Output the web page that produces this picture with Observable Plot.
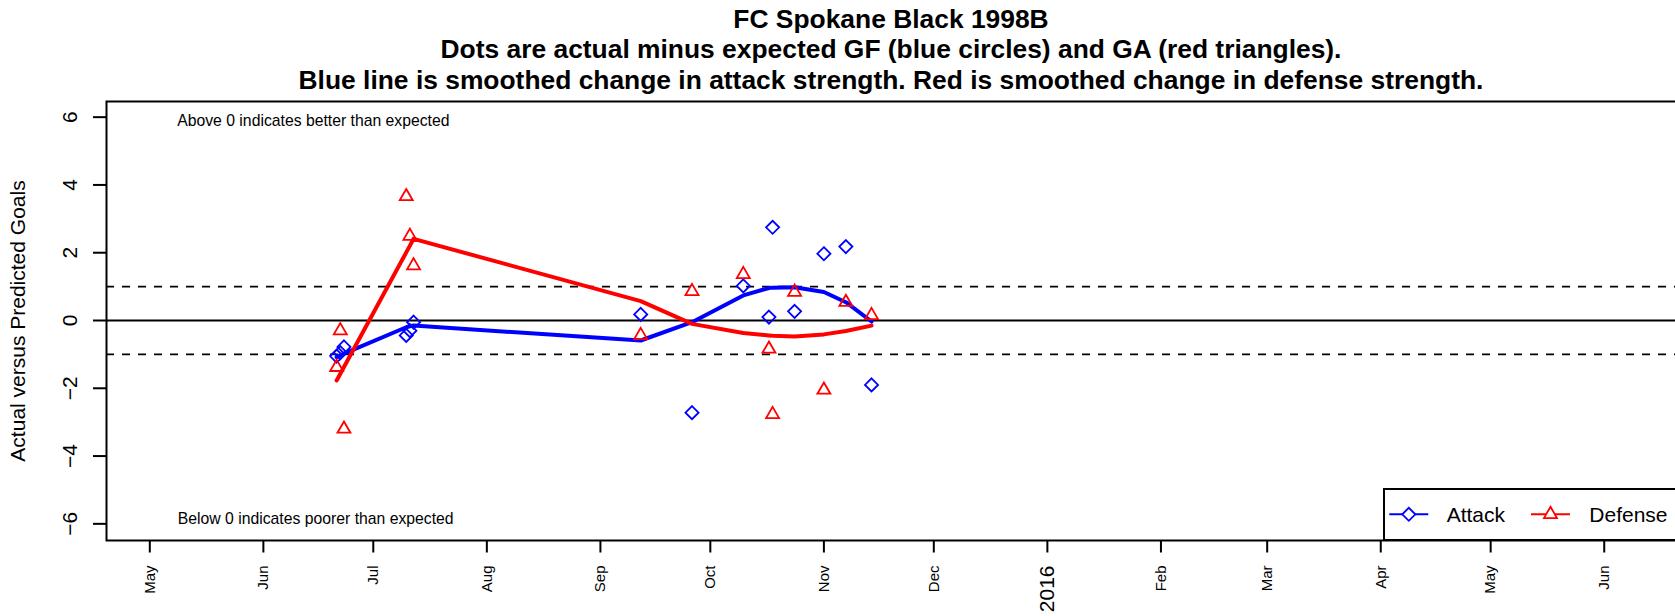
<!DOCTYPE html>
<html>
<head>
<meta charset="utf-8">
<script src="https://cdn.jsdelivr.net/npm/d3@7"></script>
<script src="https://cdn.jsdelivr.net/npm/@observablehq/plot@0.6"></script>
<style>
  html, body { margin: 0; padding: 0; background: #fff; }
  body { font-family: "Liberation Sans", Arial, Helvetica, sans-serif; }
  #wrap { position: relative; width: 1675px; height: 616px; overflow: hidden; background: #fff; }
  .ttl { position: absolute; left: 106px; width: 1570px; text-align: center; font-weight: bold;
         font-size: 26.4px; line-height: 30px; white-space: nowrap; color: #000; }
  #chart { position: absolute; left: 0; top: 0; }
  #legend { position: absolute; left: 0; top: 0; }
</style>
</head>
<body>
<div id="wrap">
  <div id="chart"></div>
  <div class="ttl" style="top:4.2px">FC Spokane Black 1998B</div>
  <div class="ttl" style="top:34.4px">Dots are actual minus expected GF (blue circles) and GA (red triangles).</div>
  <div class="ttl" style="top:64.6px">Blue line is smoothed change in attack strength. Red is smoothed change in defense strength.</div>
  <svg id="legend" width="1675" height="616"></svg>
</div>
<script>
// ---- data ----
const gameDates = ["2015-06-21","2015-06-22","2015-06-23","2015-07-10","2015-07-11","2015-07-12",
  "2015-09-12","2015-09-26","2015-10-10","2015-10-17","2015-10-18","2015-10-24","2015-11-01","2015-11-07","2015-11-14"];
const attackDiff   = [-1.05, -0.95, -0.78, -0.44, -0.30, -0.05, 0.18, -2.72, 1.02, 0.10, 2.75, 0.27, 1.97, 2.18, -1.90];
const defenseDiff  = [-1.38, -0.30, -3.20, 3.66, 2.49, 1.62, -0.44, 0.86, 1.36, -0.84, -2.77, 0.84, -2.05, 0.54, 0.15];
const attackSmooth = [-1.08, -1.03, -0.98, -0.20, -0.17, -0.15, -0.59, -0.05, 0.74, 0.96, 0.97, 0.98, 0.84, 0.54, -0.03];
const defenseSmooth= [-1.77, -1.57, -1.37, 2.01, 2.21, 2.41, 0.57, -0.10, -0.37, -0.44, -0.45, -0.47, -0.41, -0.31, -0.15];

const monthTickDates = ["2015-05-01","2015-06-01","2015-07-01","2015-08-01","2015-09-01","2015-10-01","2015-11-01",
  "2015-12-01","2016-02-01","2016-03-01","2016-04-01","2016-05-01","2016-06-01"];
const monthTickLabels = ["May","Jun","Jul","Aug","Sep","Oct","Nov","Dec","Feb","Mar","Apr","May","Jun"];
const yearTickDates = ["2016-01-01"];
const yearTickLabels = ["2016"];
const yTicks = [-6, -4, -2, 0, 2, 4, 6];
const refLinesDashed = [1, -1];
const refLineSolid = [0];
const legendNames = ["Attack", "Defense"];
const titleTexts = ["Above 0 indicates better than expected", "Below 0 indicates poorer than expected"];
const yLabel = "Actual versus Predicted Goals";

// ---- build tables ----
const toDate = s => new Date(s + "T00:00:00Z");
const games = gameDates.map((d, i) => ({
  date: toDate(d), attack: attackDiff[i], defense: defenseDiff[i],
  attackS: attackSmooth[i], defenseS: defenseSmooth[i]
}));
const monthTicks = monthTickDates.map((d, i) => ({date: toDate(d), label: monthTickLabels[i]}));
const yearTicks = yearTickDates.map((d, i) => ({date: toDate(d), label: yearTickLabels[i]}));
const allTickDates = [...monthTicks, ...yearTicks].map(d => d.date);

const DAY = 864e5;
const may1 = Date.UTC(2015, 4, 1);
const xDomain = [new Date(may1 - 11.82 * DAY), new Date(may1 + 417 * DAY)];
const yDomain = [-6.4916, 6.4621];

const BLUE = "#0000ff", RED = "#ff0000";
const FONT = "Liberation Sans, Arial, Helvetica, sans-serif";
const rDiamond = 5.9, rTriangle = 6.2;

const chart = Plot.plot({
  width: 1675,
  height: 616,
  marginLeft: 106,
  marginRight: -2,
  marginTop: 101,
  marginBottom: 76,
  style: {fontFamily: FONT, background: "white", color: "black", overflow: "hidden"},
  x: {type: "utc", domain: xDomain, axis: null},
  y: {type: "linear", domain: yDomain, axis: null},
  marks: [
    Plot.ruleY(refLinesDashed, {stroke: "black", strokeWidth: 1.8, strokeDasharray: "8,8"}),
    Plot.ruleY(refLineSolid, {stroke: "black", strokeWidth: 1.8}),
    Plot.line(games, {x: "date", y: "attackS", stroke: BLUE, strokeWidth: 4, strokeLinejoin: "round"}),
    Plot.line(games, {x: "date", y: "defenseS", stroke: RED, strokeWidth: 4, strokeLinejoin: "round"}),
    Plot.dot(games, {x: "date", y: "attack", symbol: "diamond2", r: rDiamond, stroke: BLUE, strokeWidth: 1.8, fill: "none"}),
    Plot.dot(games, {x: "date", y: "defense", symbol: "triangle2", r: rTriangle, stroke: RED, strokeWidth: 1.8, fill: "none"}),
    Plot.frame({stroke: "black", strokeWidth: 2}),
    // y axis ticks + labels
    Plot.axisY({ticks: yTicks, tickSize: 13, tickFormat: () => "", strokeWidth: 2, label: null}),
    Plot.text(yTicks, {y: d => d, frameAnchor: "left", dx: -30, rotate: -90, textAnchor: "middle",
      lineAnchor: "bottom", text: d => (d < 0 ? "\u2212" + Math.abs(d) : String(d)), fontSize: 21, fill: "black"}),
    Plot.text([yLabel], {frameAnchor: "left", dx: -82, rotate: -90, textAnchor: "middle",
      lineAnchor: "bottom", fontSize: 21, fill: "black"}),
    // x axis ticks + labels
    Plot.axisX({ticks: allTickDates, tickSize: 12.5, tickFormat: () => "", strokeWidth: 2, label: null}),
    Plot.text(monthTicks, {x: "date", text: "label", frameAnchor: "bottom", dy: 25, rotate: -90,
      textAnchor: "end", lineAnchor: "middle", fontSize: 15, fill: "black"}),
    Plot.text(yearTicks, {x: "date", text: "label", frameAnchor: "bottom", dy: 25, rotate: -90,
      textAnchor: "end", lineAnchor: "middle", fontSize: 21, fill: "black"}),
    // annotations
    Plot.text([titleTexts[0]], {frameAnchor: "top-left", dx: 70.7, dy: 24.5, textAnchor: "start",
      lineAnchor: "bottom", fontSize: 15.75, fill: "black"}),
    Plot.text([titleTexts[1]], {frameAnchor: "bottom-left", dx: 71.3, dy: -16.7, textAnchor: "start",
      lineAnchor: "bottom", fontSize: 15.75, fill: "black"})
  ]
});
document.getElementById("chart").appendChild(chart);

// ---- legend (inside plot area, bottom-right) ----
const lg = d3.select("#legend");
const box = {x: 1384, y: 489, h: 51};
lg.append("rect").attr("x", box.x).attr("y", box.y).attr("width", 400).attr("height", box.h)
  .attr("fill", "white").attr("stroke", "black").attr("stroke-width", 2);
const cy = 514.3;
const entries = [
  {name: legendNames[0], color: BLUE, sym: d3.symbolDiamond2, r: rDiamond, x0: 1389.3, x1: 1428.3, tx: 1446.7},
  {name: legendNames[1], color: RED, sym: d3.symbolTriangle2, r: rTriangle, x0: 1531, x1: 1570, tx: 1589.3}
];
for (const e of entries) {
  lg.append("line").attr("x1", e.x0).attr("x2", e.x1).attr("y1", cy).attr("y2", cy)
    .attr("stroke", e.color).attr("stroke-width", 2);
  lg.append("path").attr("d", d3.symbol(e.sym, Math.PI * e.r * e.r)())
    .attr("transform", `translate(${(e.x0 + e.x1) / 2},${cy})`)
    .attr("fill", "white").attr("stroke", e.color).attr("stroke-width", 1.8);
  lg.append("text").attr("x", e.tx).attr("y", cy).attr("dy", "0.35em")
    .attr("font-family", FONT).attr("font-size", 21).attr("fill", "black").text(e.name);
}
</script>
</body>
</html>
